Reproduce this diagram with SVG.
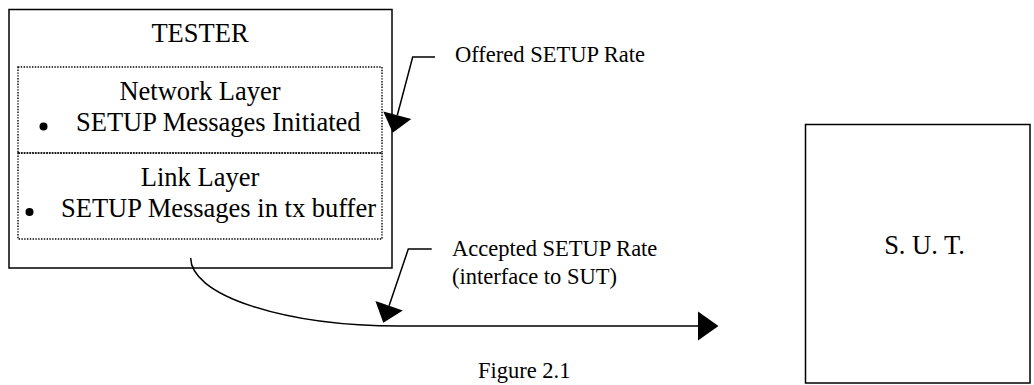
<svg xmlns="http://www.w3.org/2000/svg" width="1034" height="385" viewBox="0 0 1034 385">
<style>
.box{fill:#fff;stroke:#000;stroke-width:1.5}
.dot{fill:none;stroke:#000;stroke-width:1.4;stroke-dasharray:1.4 1.4}
.t{font-family:"Liberation Serif","Times New Roman",serif;fill:#000}
.body{font-size:26.5px}
.lbl{font-size:22.5px}
.ln{fill:none;stroke:#000;stroke-width:1.5}
.ah{fill:#000;stroke:none}
</style>
<rect x="0" y="0" width="1034" height="385" fill="#fff"/>
<g id="tester">
<rect class="box" x="9" y="9.5" width="383" height="258.5"/>
<text class="t body" x="200" y="42.3" text-anchor="middle">TESTER</text>
<g id="network-layer">
<rect class="dot" x="18" y="67" width="364" height="86"/>
<text class="t body" x="200" y="100" text-anchor="middle">Network Layer</text>
<circle cx="43.5" cy="126.5" r="4" fill="#000"/>
<text class="t body" x="76" y="130.7">SETUP Messages Initiated</text>
</g>
<g id="link-layer">
<rect class="dot" x="18" y="153" width="364" height="86"/>
<text class="t body" x="200" y="185.7" text-anchor="middle">Link Layer</text>
<circle cx="29.5" cy="212" r="4" fill="#000"/>
<text class="t body" x="61" y="216.7">SETUP Messages in tx buffer</text>
</g>
</g>
<g id="sut">
<rect class="box" x="805.5" y="124.5" width="224.5" height="258.5"/>
<text class="t body" x="924.5" y="254" text-anchor="middle">S. U. T.</text>
</g>
<g id="labels">
<text class="t lbl" x="455" y="62">Offered SETUP Rate</text>
<text class="t lbl" x="452" y="256">Accepted SETUP Rate</text>
<text class="t lbl" x="452" y="283.5">(interface to SUT)</text>
<text class="t lbl" x="478" y="378">Figure 2.1</text>
</g>
<g id="connectors">
<polyline class="ln" points="435,57 412.7,57 397.3,115.3"/>
<polygon class="ah" points="392.7,132.7 411.3,119 383.3,111.6"/>
<polyline class="ln" points="431.7,249 408.3,249 389.1,305.7"/>
<polygon class="ah" points="383.3,322.7 402.8,310.4 375.4,301"/>
<path class="ln" d="M190.7,258 A209,68 0 0 0 400,326 L699,326"/>
<polygon class="ah" points="698,311.5 718.5,326 698,340.5"/>
</g>
</svg>
